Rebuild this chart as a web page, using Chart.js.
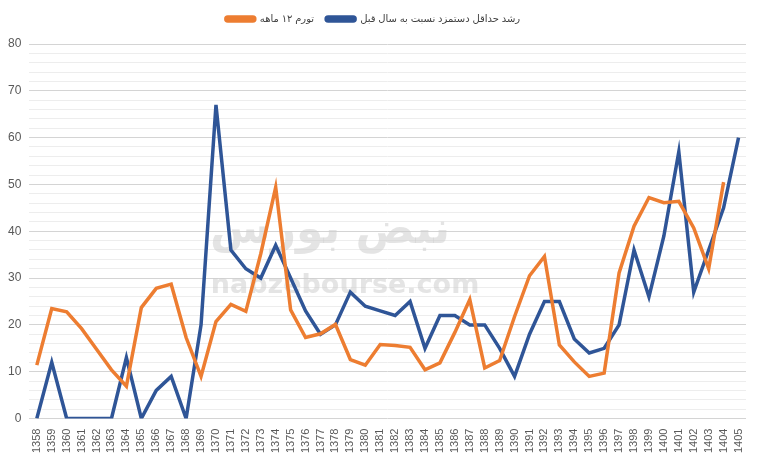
<!DOCTYPE html>
<html>
<head>
<meta charset="utf-8">
<script src="https://cdn.jsdelivr.net/npm/chart.js@4/dist/chart.umd.min.js"></script>
<style>
  html, body { margin: 0; padding: 0; background: #fff; }
  #wrap { width: 758px; height: 459px; }
</style>
</head>
<body>
<div id="wrap"><canvas id="myChart"></canvas></div>
<script>
const years = [];
for (let y = 1358; y <= 1405; y++) years.push(String(y));

// تورم ۱۲ ماهه
const inflation = [11.4, 23.5, 22.8, 19.2, 14.8, 10.4, 6.9, 23.7, 27.8, 28.7,
    17.3, 9.0, 20.7, 24.4, 22.9, 35.2, 49.4, 23.2, 17.3, 18.1,
    20.1, 12.6, 11.4, 15.8, 15.6, 15.2, 10.4, 11.9, 18.4, 25.4,
    10.8, 12.4, 21.8, 30.5, 34.6, 15.7, 12.1, 9.0, 9.7, 31.1,
    41.1, 47.2, 46.1, 46.4, 40.7, 32.0, 50.5, null];

// رشد حداقل دستمزد نسبت به سال قبل
const wageGrowth = [0, 12, 0, 0, 0, 0, 13, 0, 6, 9,
    0, 20, 67, 36, 32, 30, 37, 30, 23, 18,
    20, 27, 24, 23, 22, 25, 15, 22, 22, 20,
    20, 15, 9, 18, 25, 25, 17, 14, 15, 20,
    36, 26, 39, 57, 27, 36, 45, 60];

const fontFamily = "'Liberation Sans', 'DejaVu Sans', sans-serif";

// faint site watermark behind the lines
const watermark = {
    id: 'watermark',
    beforeDatasetsDraw(chart) {
        const c = chart.ctx;
        c.save();
        c.fillStyle = 'rgba(205,205,205,0.55)';
        c.textAlign = 'center';
        c.textBaseline = 'middle';
        c.font = "bold 44px 'DejaVu Sans', sans-serif";
        c.fillText('نبض بورس', 330, 232);
        c.font = "bold 27px 'DejaVu Sans', sans-serif";
        c.fillText('nabzebourse.com', 345, 286);
        c.restore();
    }
};

// extra room under the legend
const legendGap = {
    id: 'legendGap',
    beforeInit(chart) {
        const fit = chart.legend.fit;
        chart.legend.fit = function () {
            fit.bind(chart.legend)();
            this.height += 10;
        };
    }
};

const ctx = document.getElementById('myChart').getContext('2d');
new Chart(ctx, {
    type: 'line',
    data: {
        labels: years,
        datasets: [
            {
                label: 'تورم ۱۲ ماهه',
                data: inflation,
                borderColor: '#ed7d31',
                backgroundColor: '#ed7d31',
                borderWidth: 3.5,
                pointRadius: 0,
                tension: 0,
                spanGaps: false
            },
            {
                label: 'رشد حداقل دستمزد نسبت به سال قبل',
                data: wageGrowth,
                borderColor: '#2f5597',
                backgroundColor: '#2f5597',
                borderWidth: 3.5,
                pointRadius: 0,
                tension: 0
            }
        ]
    },
    options: {
        responsive: true,
        maintainAspectRatio: false,
        animation: false,
        layout: { padding: { left: 0, right: 12, top: 2, bottom: 4 } },
        plugins: {
            legend: {
                position: 'top',
                labels: {
                    boxWidth: 29,
                    boxHeight: 4,
                    useBorderRadius: true,
                    borderRadius: 2,
                    color: '#404040',
                    font: { family: fontFamily, size: 10 },
                    padding: 12
                }
            },
            tooltip: { enabled: false }
        },
        scales: {
            x: {
                offset: true,
                grid: { display: false },
                border: { display: false },
                ticks: {
                    autoSkip: false,
                    maxRotation: 90,
                    minRotation: 90,
                    color: '#595959',
                    font: { family: fontFamily, size: 11 },
                    padding: 2
                }
            },
            y: {
                min: 0,
                max: 80,
                border: { display: false },
                grid: {
                    drawTicks: false,
                    color: c => (c.tick && c.tick.value % 10 === 0) ? '#d4d4d4' : '#ededed',
                    lineWidth: 1
                },
                ticks: {
                    stepSize: 2,
                    autoSkip: false,
                    padding: 8,
                    color: '#595959',
                    font: { family: fontFamily, size: 12 },
                    callback: v => (v % 10 === 0 ? v : '')
                }
            }
        }
    },
    plugins: [watermark, legendGap]
});
</script>
</body>
</html>
